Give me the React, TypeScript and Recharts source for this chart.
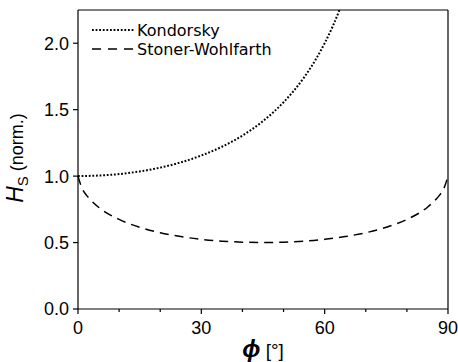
import React from 'react';
import { LineChart, Line, XAxis, YAxis, ReferenceLine } from 'recharts';

// angle phi in degrees
const kondorskyPhi = [0, 5, 10, 15, 20, 25, 30, 35, 40, 45, 50, 55, 58, 60, 62, 64];
const kondorskyH = [1.0, 1.004, 1.015, 1.035, 1.064, 1.103, 1.155, 1.221, 1.305, 1.414, 1.556, 1.743, 1.887, 2.0, 2.13, 2.281];

const swPhi = [0, 1, 2, 3, 5, 10, 15, 20, 25, 30, 35, 40, 45, 50, 55, 60, 65, 70, 75, 80, 85, 87, 88, 89, 90];
const swH = [1.0, 0.907, 0.859, 0.823, 0.766, 0.674, 0.615, 0.574, 0.545, 0.524, 0.51, 0.503, 0.5, 0.503, 0.51, 0.524, 0.545, 0.574, 0.615, 0.674, 0.766, 0.823, 0.859, 0.907, 1.0];

const xTicks = [0, 10, 20, 30, 40, 50, 60, 70, 80, 90];
const xLabeled = [0, 30, 60, 90];
const yTicks = [0, 0.5, 1.0, 1.5, 2.0];

const kondorskyData = kondorskyPhi.map((p, i) => ({ phi: p, h: kondorskyH[i] }));
const swData = swPhi.map((p, i) => ({ phi: p, h: swH[i] }));

const TICK_FONT = '"Liberation Sans", Arial, sans-serif';
const LEGEND_FONT = '"DejaVu Sans", Verdana, sans-serif';

const XTick = ({ x, y, payload }: any) => {
  const major = xLabeled.includes(payload.value);
  return (
    <g>
      <line x1={x} x2={x} y1={y} y2={y + (major ? 5 : 3)} stroke="#000" strokeWidth={1.2} />
      {major && (
        <text x={x} y={y + 25} textAnchor="middle" fontSize={18} fontFamily={TICK_FONT} fill="#000">
          {payload.value}
        </text>
      )}
    </g>
  );
};

const YTick = ({ x, y, payload }: any) => (
  <g>
    <line x1={x - 5} x2={x} y1={y} y2={y} stroke="#000" strokeWidth={1.2} />
    <text x={x - 9} y={y} dy="0.36em" textAnchor="end" fontSize={18} fontFamily={TICK_FONT} fill="#000">
      {payload.value.toFixed(1)}
    </text>
  </g>
);

// legend drawn over the plot, top-left corner
const LegendBox = () => (
  <svg width={200} height={40} style={{ position: 'absolute', left: 92, top: 22 }}>
    <line x1={0} x2={42} y1={8} y2={8} stroke="#000" strokeWidth={2} strokeDasharray="1.8 1.8" />
    <text x={45} y={14} fontSize={16} fontFamily={LEGEND_FONT} fill="#000">Kondorsky</text>
    <line x1={0} x2={42} y1={27} y2={27} stroke="#000" strokeWidth={1.5} strokeDasharray="9 7" />
    <text x={45} y={33} fontSize={16} fontFamily={LEGEND_FONT} fill="#000">Stoner-Wohlfarth</text>
  </svg>
);

export default function App() {
  return (
    <div style={{ position: 'absolute', left: 0, top: 0, width: 458, height: 362, background: '#fff' }}>
      <LineChart width={458} height={362} margin={{ top: 10, right: 10, left: 0, bottom: 0 }}>
        <XAxis
          type="number"
          dataKey="phi"
          domain={[0, 90]}
          ticks={xTicks}
          interval={0}
          height={53}
          tickSize={0}
          tickMargin={0}
          tickLine={false}
          tick={<XTick />}
          axisLine={{ stroke: '#000', strokeWidth: 1.2 }}
          allowDuplicatedCategory={false}
        />
        <YAxis
          type="number"
          domain={[0, 2.25]}
          ticks={yTicks}
          interval={0}
          width={78}
          tickSize={0}
          tickMargin={0}
          tickLine={false}
          tick={<YTick />}
          allowDataOverflow
          axisLine={{ stroke: '#000', strokeWidth: 1.2 }}
        />
        <ReferenceLine y={2.25} stroke="#000" strokeWidth={1.2} />
        <ReferenceLine x={90} stroke="#000" strokeWidth={1.2} />
        <Line
          data={kondorskyData}
          dataKey="h"
          type="monotone"
          stroke="#000"
          strokeWidth={2}
          strokeDasharray="1.8 1.8"
          dot={false}
          isAnimationActive={false}
        />
        <Line
          data={swData}
          dataKey="h"
          type="monotone"
          stroke="#000"
          strokeWidth={1.5}
          strokeDasharray="9 6"
          dot={false}
          isAnimationActive={false}
        />
        <text transform="translate(23,158) rotate(-90)" textAnchor="middle" fontFamily={TICK_FONT} fill="#000">
          <tspan fontSize={23} fontStyle="italic">H</tspan>
          <tspan fontSize={15} dy={5}>S</tspan>
          <tspan fontSize={18} dy={-5}> (norm.)</tspan>
        </text>
        <text x={263} y={357} textAnchor="middle" fontFamily={TICK_FONT} fill="#000">
          <tspan fontSize={24} fontStyle="italic" fontWeight="bold">ϕ</tspan>
          <tspan fontSize={19}> [°]</tspan>
        </text>
      </LineChart>
      <LegendBox />
    </div>
  );
}
